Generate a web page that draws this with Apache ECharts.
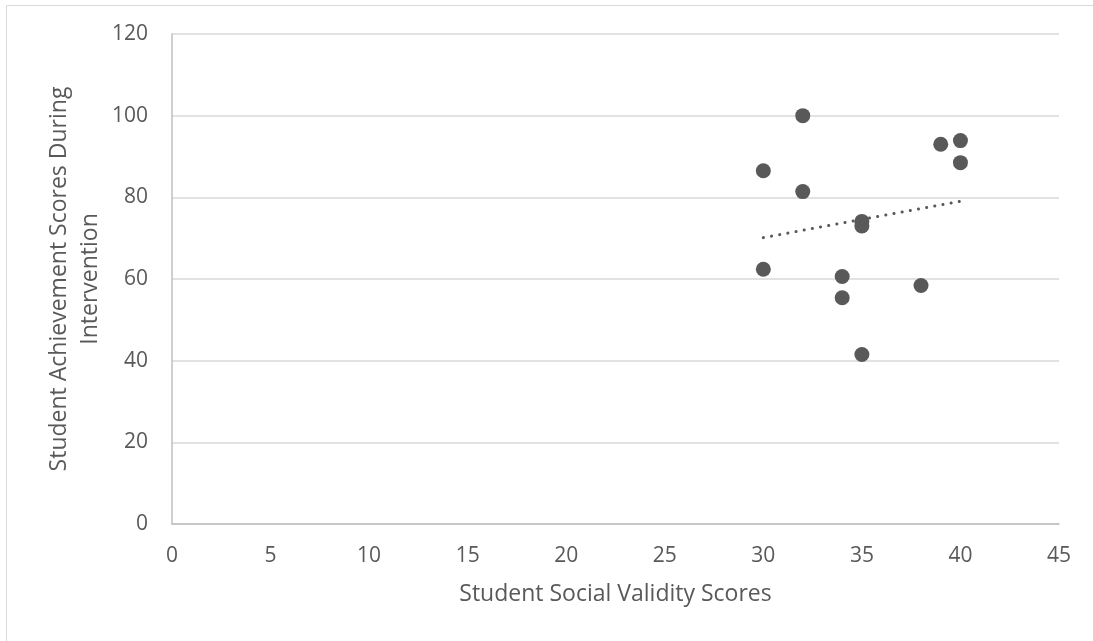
<!DOCTYPE html>
<html>
<head>
<meta charset="utf-8">
<script src="https://cdn.jsdelivr.net/npm/echarts@6/dist/echarts.min.js"></script>
<style>
  html, body { margin: 0; padding: 0; background: #fff; }
  #chart { width: 1093px; height: 641px; }
</style>
</head>
<body>
<div id="chart"></div>
<script>
// Social validity score (x) against achievement score during intervention (y)
const socialValidity = [30, 30, 32, 32, 34, 34, 35, 35, 35, 38, 39, 40, 40];
const achievement    = [86.5, 62.4, 100, 81.4, 60.6, 55.4, 74.1, 73.0, 41.5, 58.4, 93.0, 93.9, 88.5];

const xTicks = [0, 5, 10, 15, 20, 25, 30, 35, 40, 45];
const yTicks = [0, 20, 40, 60, 80, 100, 120];

const xTitle = 'Student Social Validity Scores';
const yTitle = 'Student Achievement Scores During\nIntervention';

// Least-squares linear trendline across the observed x range
function linearFit(xs, ys) {
  const n = xs.length;
  const mx = xs.reduce((a, b) => a + b, 0) / n;
  const my = ys.reduce((a, b) => a + b, 0) / n;
  let sxy = 0, sxx = 0;
  for (let i = 0; i < n; i++) {
    sxy += (xs[i] - mx) * (ys[i] - my);
    sxx += (xs[i] - mx) * (xs[i] - mx);
  }
  const slope = sxy / sxx;
  return x => my + slope * (x - mx);
}
const fit = linearFit(socialValidity, achievement);
const xMin = Math.min(...socialValidity), xMax = Math.max(...socialValidity);
const trend = [[xMin, fit(xMin)], [xMax, fit(xMax)]];

const points = socialValidity.map((x, i) => [x, achievement[i]]);

const textColor = '#595959';
const fontFamily = '"Open Sans", "Noto Sans", sans-serif';

const chart = echarts.init(document.getElementById('chart'), null, { renderer: 'canvas' });
chart.setOption({
  backgroundColor: '#ffffff',
  animation: false,
  graphic: [{
    type: 'rect',
    shape: { x: 6.5, y: 5.5, width: 1200, height: 800 },
    style: { fill: 'none', stroke: '#d9d9d9', lineWidth: 1 },
    silent: true
  }],
  grid: { left: 172, right: 1093 - 1059, top: 34, bottom: 641 - 524 },
  xAxis: {
    type: 'value',
    min: xTicks[0],
    max: xTicks[xTicks.length - 1],
    interval: 5,
    name: xTitle,
    nameLocation: 'middle',
    nameGap: 59,
    nameMoveOverlap: false,
    nameTextStyle: { color: textColor, fontSize: 23, fontFamily },
    axisLine: { show: true, onZero: false, lineStyle: { color: '#bfbfbf', width: 1.5 } },
    axisTick: { show: false },
    splitLine: { show: false },
    axisLabel: { color: textColor, fontSize: 21, fontFamily, margin: 22 }
  },
  yAxis: {
    type: 'value',
    min: yTicks[0],
    max: yTicks[yTicks.length - 1],
    interval: 20,
    name: yTitle,
    nameLocation: 'middle',
    nameGap: 66,
    nameMoveOverlap: false,
    nameRotate: 90,
    nameTextStyle: { color: textColor, fontSize: 23, fontFamily, lineHeight: 31, align: 'center' },
    axisLine: { show: true, lineStyle: { color: '#bfbfbf', width: 1.5 } },
    axisTick: { show: false },
    splitLine: { show: true, lineStyle: { color: '#d9d9d9', width: 1.5 } },
    axisLabel: { color: textColor, fontSize: 21, fontFamily, margin: 24 }
  },
  series: [
    {
      name: 'Scores',
      type: 'scatter',
      data: points,
      symbol: 'circle',
      symbolSize: 15,
      itemStyle: { color: '#595959', opacity: 1 },
      z: 3
    },
    {
      name: 'Trend',
      type: 'line',
      data: trend,
      symbol: 'none',
      lineStyle: { color: '#595959', width: 3, type: [0.1, 8.2], cap: 'round' },
      z: 4
    }
  ]
});
</script>
</body>
</html>
